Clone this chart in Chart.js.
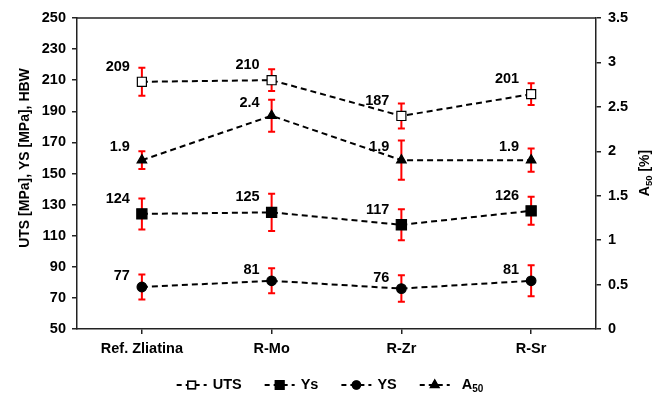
<!DOCTYPE html>
<html>
<head>
<meta charset="utf-8">
<script src="https://cdn.jsdelivr.net/npm/chart.js@4.4.0/dist/chart.umd.min.js"></script>
<style>
  html, body { margin: 0; padding: 0; background: #fff; }
</style>
</head>
<body>
<canvas id="chart" width="664" height="393"></canvas>
<script>
// data
const categories = ['Ref. Zliatina', 'R-Mo', 'R-Zr', 'R-Sr'];
const utsValues = [209, 210, 187, 201];
const utsErr = [9, 7, 8, 7];
const ysCapValues = [124, 125, 117, 126];   // "Ys" (filled square)
const ysCapErr = [10, 12, 10, 9];
const ysValues = [77, 81, 76, 81];          // "YS" (circle)
const ysErr = [8, 8, 8.5, 10];
const a50Values = [1.9, 2.4, 1.9, 1.9];
const a50Err = [0.1, 0.18, 0.22, 0.13];
const leftRange = [50, 250, 20];
const rightRange = [0, 3.5, 0.5];

const FONT = '"Liberation Sans", Arial, sans-serif';
const AXIS = '#222';

Chart.defaults.font.family = FONT;
Chart.defaults.color = '#000';

function series(label, data, err, axis, style, radius, fill, dy) {
    return {
        label: label,
        data: data,
        err: err,
        labelDy: dy,
        yAxisID: axis,
        borderColor: '#000',
        borderWidth: 2,
        borderDash: [6, 4],
        pointStyle: style,
        pointRadius: radius,
        pointHoverRadius: radius,
        pointBackgroundColor: fill,
        pointBorderColor: '#000',
        pointBorderWidth: 1.2,
        fill: false,
        tension: 0
    };
}

// error bars, value labels, top frame line, legend and axis titles
const decor = {
    id: 'decor',
    beforeDatasetsDraw(chart) {
        const ctx = chart.ctx;
        ctx.save();
        ctx.strokeStyle = '#ff0000';
        ctx.lineWidth = 2;
        chart.data.datasets.forEach((ds, i) => {
            const meta = chart.getDatasetMeta(i);
            const sc = chart.scales[ds.yAxisID];
            meta.data.forEach((pt, j) => {
                const top = sc.getPixelForValue(ds.data[j] + ds.err[j]);
                const bot = sc.getPixelForValue(ds.data[j] - ds.err[j]);
                ctx.beginPath();
                ctx.moveTo(pt.x, top); ctx.lineTo(pt.x, bot);
                ctx.moveTo(pt.x - 3.5, top); ctx.lineTo(pt.x + 3.5, top);
                ctx.moveTo(pt.x - 3.5, bot); ctx.lineTo(pt.x + 3.5, bot);
                ctx.stroke();
            });
        });
        ctx.restore();
    },
    afterDatasetsDraw(chart) {
        const ctx = chart.ctx;
        const area = chart.chartArea;
        ctx.save();
        ctx.font = 'bold 14.5px ' + FONT;
        ctx.fillStyle = '#000';
        ctx.textAlign = 'right';
        ctx.textBaseline = 'middle';
        chart.data.datasets.forEach((ds, i) => {
            chart.getDatasetMeta(i).data.forEach((pt, j) => {
                ctx.fillText(String(ds.data[j]), pt.x - 12, pt.y + ds.labelDy);
            });
        });
        ctx.strokeStyle = AXIS;
        ctx.lineWidth = 1.5;
        ctx.beginPath();
        ctx.moveTo(area.left, area.top);
        ctx.lineTo(area.right, area.top);
        ctx.stroke();
        ctx.restore();
    },
    afterDraw(chart) {
        const ctx = chart.ctx;
        ctx.save();
        ctx.fillStyle = '#000';

        // left axis title
        ctx.font = 'bold 14px ' + FONT;
        ctx.textAlign = 'center';
        ctx.textBaseline = 'middle';
        ctx.save();
        ctx.translate(25, 158);
        ctx.rotate(-Math.PI / 2);
        ctx.fillText('UTS [MPa], YS [MPa], HBW', 0, 0);
        ctx.restore();

        // right axis title with subscript
        ctx.save();
        ctx.translate(645, 173);
        ctx.rotate(-Math.PI / 2);
        ctx.textAlign = 'left';
        ctx.font = 'bold 14px ' + FONT;
        const wA = ctx.measureText('A').width;
        const wRest = ctx.measureText(' [%]').width;
        ctx.font = 'bold 9.5px ' + FONT;
        const wSub = ctx.measureText('50').width;
        let x0 = -(wA + wSub + wRest) / 2;
        ctx.font = 'bold 14px ' + FONT;
        ctx.fillText('A', x0, 0);
        ctx.font = 'bold 9.5px ' + FONT;
        ctx.fillText('50', x0 + wA, 4);
        ctx.font = 'bold 14px ' + FONT;
        ctx.fillText(' [%]', x0 + wA + wSub, 0);
        ctx.restore();

        // legend
        const seg = 30, gap = 6, itemGap = 23, ly = 385;
        ctx.textAlign = 'left';
        const items = chart.data.datasets.map(ds => {
            let w;
            if (ds.label === 'A50') {
                ctx.font = 'bold 14.5px ' + FONT;
                w = ctx.measureText('A').width;
                ctx.font = 'bold 10px ' + FONT;
                w += ctx.measureText('50').width;
                return { ds: ds, gap: 12, w: w };
            }
            ctx.font = 'bold 14.5px ' + FONT;
            return { ds: ds, gap: gap, w: ctx.measureText(ds.label).width };
        });
        const total = items.reduce((s, it) => s + seg + it.gap + it.w, 0) + itemGap * (items.length - 1);
        let x = 330 - total / 2;
        items.forEach(it => {
            ctx.strokeStyle = '#000';
            ctx.lineWidth = 2;
            ctx.setLineDash([5, 4]);
            ctx.beginPath();
            ctx.moveTo(x, ly); ctx.lineTo(x + seg, ly);
            ctx.stroke();
            ctx.setLineDash([]);
            Chart.helpers.drawPoint(ctx, {
                pointStyle: it.ds.pointStyle,
                radius: it.ds.pointRadius * 0.8,
                borderWidth: 1.2
            }, x + seg / 2, ly);
            ctx.fillStyle = it.ds.pointBackgroundColor;
            ctx.strokeStyle = '#000';
            ctx.lineWidth = 1.2;
            ctx.fill();
            ctx.stroke();
            ctx.fillStyle = '#000';
            const tx = x + seg + it.gap;
            if (it.ds.label === 'A50') {
                ctx.font = 'bold 14.5px ' + FONT;
                ctx.textBaseline = 'middle';
                ctx.fillText('A', tx, ly);
                const wa = ctx.measureText('A').width;
                ctx.font = 'bold 10px ' + FONT;
                ctx.fillText('50', tx + wa, ly + 4);
            } else {
                ctx.font = 'bold 14.5px ' + FONT;
                ctx.textBaseline = 'middle';
                ctx.fillText(it.ds.label, tx, ly);
            }
            x += seg + it.gap + it.w + itemGap;
        });
        ctx.restore();
    }
};

const gridOpts = {
    drawOnChartArea: false,
    drawTicks: true,
    tickLength: 5,
    color: AXIS,
    lineWidth: 1.5
};

new Chart(document.getElementById('chart'), {
    type: 'line',
    data: {
        labels: categories,
        datasets: [
            series('UTS', utsValues, utsErr, 'y', 'rect', 6.4, '#fff', -15),
            series('Ys', ysCapValues, ysCapErr, 'y', 'rect', 7.2, '#000', -15),
            series('YS', ysValues, ysErr, 'y', 'circle', 4.8, '#000', -11),
            series('A50', a50Values, a50Err, 'y1', 'triangle', 5.5, '#000', -13)
        ]
    },
    options: {
        responsive: false,
        animation: false,
        layout: { padding: { top: 18, left: 0, right: 0, bottom: 0 } },
        plugins: {
            legend: { display: false },
            tooltip: { enabled: false }
        },
        scales: {
            x: {
                offset: true,
                grid: Object.assign({}, gridOpts, { offset: false }),
                border: { color: AXIS, width: 1.5 },
                ticks: { padding: 6, font: { size: 14.5, weight: 'bold' }, color: '#000' },
                afterFit: s => { s.height = 64; }
            },
            y: {
                position: 'left',
                min: leftRange[0],
                max: leftRange[1],
                grid: gridOpts,
                border: { color: AXIS, width: 1.5 },
                ticks: { stepSize: leftRange[2], padding: 6, font: { size: 14.5, weight: 'bold' }, color: '#000' },
                afterFit: s => { s.width = 77; }
            },
            y1: {
                position: 'right',
                min: rightRange[0],
                max: rightRange[1],
                grid: gridOpts,
                border: { color: AXIS, width: 1.5 },
                ticks: {
                    stepSize: rightRange[2],
                    padding: 7,
                    font: { size: 14.5, weight: 'bold' },
                    color: '#000',
                    callback: v => String(Math.round(v * 10) / 10)
                },
                afterFit: s => { s.width = 68; }
            }
        }
    },
    plugins: [decor]
});
</script>
</body>
</html>
